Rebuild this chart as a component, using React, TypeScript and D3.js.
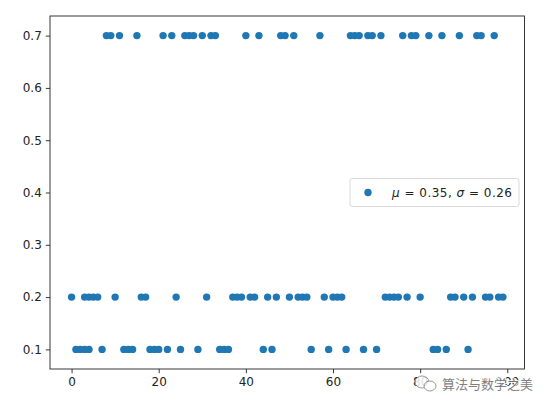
import { useRef, useEffect } from 'react';
import * as d3 from 'd3';

const WIDTH = 550;
const HEIGHT = 408;
const FRAME = { left: 50, top: 16, right: 524.5, bottom: 369 };

// sample index of every point, grouped by the value it takes
const LEVELS = [0.1, 0.2, 0.7];
const lowIdx = [1, 2, 3, 4, 7, 12, 13, 14, 18, 19, 20, 22, 25, 29, 34, 35, 36, 44, 46, 55, 59, 63, 67, 70, 83, 84, 86, 91];
const midIdx = [0, 3, 4, 5, 6, 10, 16, 17, 24, 31, 37, 38, 39, 41, 42, 45, 47, 50, 52, 53, 54, 58, 60, 61, 62, 72, 73, 74, 75, 77, 80, 87, 88, 90, 92, 95, 96, 98, 99];
const highIdx = [8, 9, 11, 15, 21, 23, 26, 27, 28, 30, 32, 33, 40, 43, 48, 49, 51, 57, 64, 65, 66, 68, 69, 71, 76, 78, 79, 82, 85, 89, 93, 94, 97];

const xTicks = [0, 20, 40, 60, 80, 100];
const yTicks = [0.1, 0.2, 0.3, 0.4, 0.5, 0.6, 0.7];
const legendMu = '0.35';
const legendSigma = '0.26';
const watermark = '算法与数学之美';

const COLOR = '#1f77b4';
const FONT = 'DejaVu Sans, sans-serif';

export default function App() {
  const svgRef = useRef<SVGSVGElement | null>(null);

  useEffect(() => {
    const svg = d3.select(svgRef.current);
    svg.selectAll('*').remove();

    const points: { x: number; y: number }[] = [];
    [lowIdx, midIdx, highIdx].forEach((arr, i) => arr.forEach(x => points.push({ x, y: LEVELS[i] })));
    points.sort((a, b) => a.x - b.x);

    const xScale = d3.scaleLinear().domain([-4.95, 103.95]).range([FRAME.left, FRAME.right]);
    const yScale = d3.scaleLinear().domain([0.0625, 0.7375]).range([FRAME.bottom, FRAME.top]);

    svg.append('rect').attr('width', WIDTH).attr('height', HEIGHT).attr('fill', '#fff');

    // points
    svg.append('g').selectAll('circle')
      .data(points)
      .join('circle')
      .attr('cx', d => xScale(d.x))
      .attr('cy', d => yScale(d.y))
      .attr('r', 3.7)
      .attr('fill', COLOR);

    // axes
    const xAxis = svg.append('g')
      .attr('transform', `translate(0,${FRAME.bottom})`)
      .call(d3.axisBottom(xScale).tickValues(xTicks).tickSize(4.2).tickPadding(4).tickSizeOuter(0).tickFormat(d3.format('d')));
    const yAxis = svg.append('g')
      .attr('transform', `translate(${FRAME.left},0)`)
      .call(d3.axisLeft(yScale).tickValues(yTicks).tickSize(4.2).tickPadding(4).tickSizeOuter(0).tickFormat(d3.format('.1f')));
    [xAxis, yAxis].forEach(ax => {
      ax.select('.domain').remove();
      ax.selectAll('line').attr('stroke', '#222').attr('stroke-width', 0.9);
      ax.selectAll('text').attr('fill', '#222').attr('font-size', 12).attr('font-family', FONT);
    });

    // frame
    svg.append('rect')
      .attr('x', FRAME.left).attr('y', FRAME.top)
      .attr('width', FRAME.right - FRAME.left).attr('height', FRAME.bottom - FRAME.top)
      .attr('fill', 'none').attr('stroke', '#222').attr('stroke-width', 0.9);

    // legend, center right
    const lg = svg.append('g').attr('transform', `translate(350,${(FRAME.top + FRAME.bottom) / 2})`);
    lg.append('rect')
      .attr('x', 0).attr('y', -14).attr('width', 169).attr('height', 28).attr('rx', 2.5)
      .attr('fill', 'rgba(255,255,255,0.8)').attr('stroke', '#d6d6d6').attr('stroke-width', 0.9);
    lg.append('circle').attr('cx', 18).attr('cy', 0).attr('r', 3.7).attr('fill', COLOR);
    const lt = lg.append('text').attr('x', 42).attr('y', 4.5)
      .attr('font-size', 12).attr('font-family', FONT).attr('fill', '#222')
      .attr('textLength', 120).attr('lengthAdjust', 'spacing');
    lt.append('tspan').attr('font-style', 'italic').text('μ');
    lt.append('tspan').text(` = ${legendMu},  `);
    lt.append('tspan').attr('font-style', 'italic').text('σ');
    lt.append('tspan').text(` = ${legendSigma}`);

    // watermark
    const wm = svg.append('g').attr('opacity', 0.85);
    wm.append('ellipse').attr('cx', 422).attr('cy', 382).attr('rx', 7).attr('ry', 6)
      .attr('fill', '#fff').attr('stroke', '#888').attr('stroke-width', 1);
    wm.append('ellipse').attr('cx', 430).attr('cy', 386).attr('rx', 6).attr('ry', 5)
      .attr('fill', '#fff').attr('stroke', '#888').attr('stroke-width', 1);
    wm.append('text').attr('x', 442).attr('y', 389)
      .attr('font-size', 13).attr('font-family', 'Noto Sans CJK SC, sans-serif')
      .attr('fill', '#6a6a6a').attr('stroke', '#fff').attr('stroke-width', 2)
      .attr('paint-order', 'stroke')
      .text(watermark);
  }, []);

  return (
    <div style={{ position: 'absolute', left: 0, top: 0 }}>
      <svg ref={svgRef} width={WIDTH} height={HEIGHT} />
    </div>
  );
}
